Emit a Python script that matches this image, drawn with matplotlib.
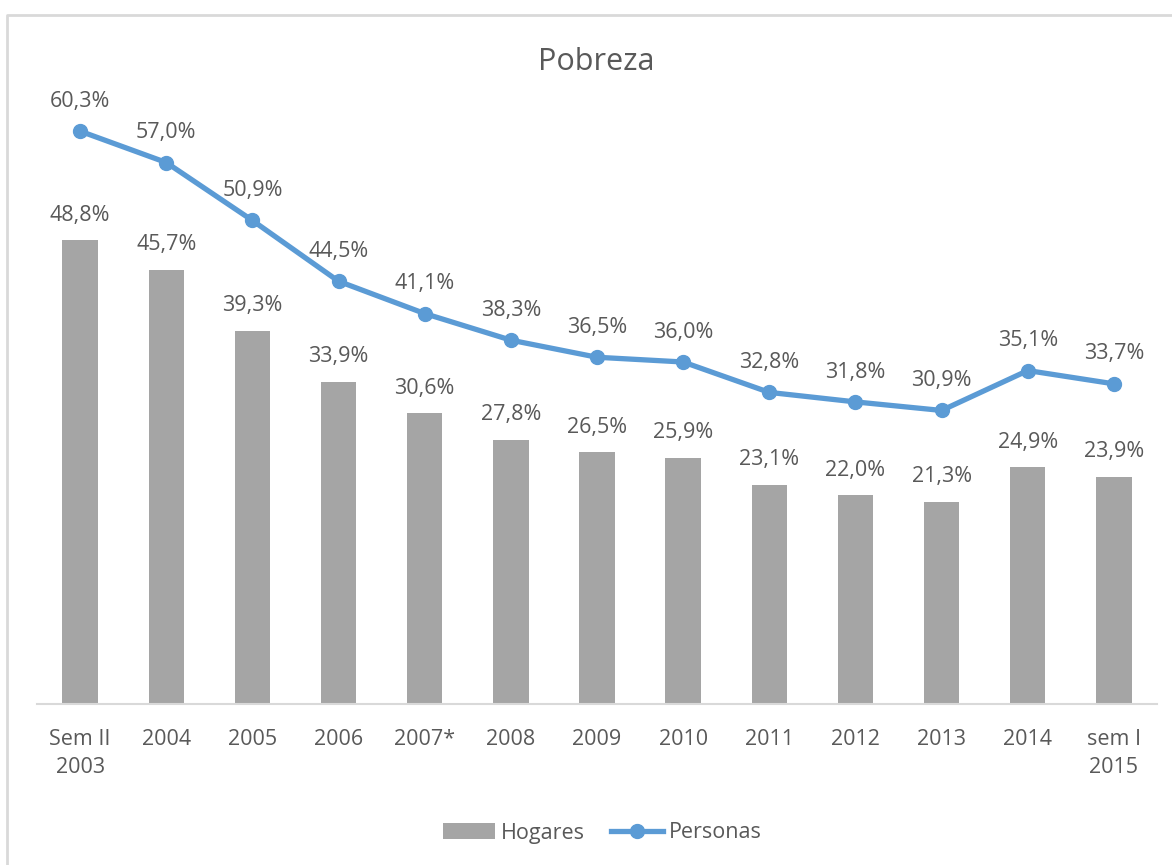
import matplotlib
matplotlib.use("Agg")
import matplotlib.pyplot as plt
from matplotlib.lines import Line2D
import numpy as np

plt.rcParams['font.family'] = ['Open Sans', 'DejaVu Sans']

# data
categories = ["Sem II\n2003", "2004", "2005", "2006", "2007*", "2008", "2009",
              "2010", "2011", "2012", "2013", "2014", "sem I\n2015"]
hogares = [48.8, 45.7, 39.3, 33.9, 30.6, 27.8, 26.5, 25.9, 23.1, 22.0, 21.3, 24.9, 23.9]
personas = [60.3, 57.0, 50.9, 44.5, 41.1, 38.3, 36.5, 36.0, 32.8, 31.8, 30.9, 35.1, 33.7]

text_color = '#595959'
bar_color = '#A5A5A5'
line_color = '#5B9BD5'
grid_gray = '#D9D9D9'

W, H = 1172, 865
fig = plt.figure(figsize=(W / 100, H / 100), dpi=100)

# chart area frame (Excel style, cropped on right/bottom)
fig.add_artist(Line2D([7 / W, 7 / W, 1.0], [0.0, 1 - 15 / H, 1 - 15 / H],
                      transform=fig.transFigure, color=grid_gray, linewidth=2))

ax_bottom = 1 - 704 / H
ax = fig.add_axes([37 / W, ax_bottom, 1120 / W, 617.5 / H])
x = np.arange(len(categories))

bars = ax.bar(x, hogares, width=0.41, color=bar_color, label='Hogares', zorder=2)
line, = ax.plot(x, personas, color=line_color, linewidth=3.8, marker='o', markersize=10,
                label='Personas', zorder=3)

for xi, v in zip(x, hogares):
    ax.annotate(f"{v:.1f}%".replace('.', ','), (xi, v), xytext=(0, 18),
                textcoords='offset points', ha='center', va='center',
                fontsize=15.5, color=text_color)
for xi, v in zip(x, personas):
    ax.annotate(f"{v:.1f}%".replace('.', ','), (xi, v), xytext=(0, 21.5),
                textcoords='offset points', ha='center', va='center',
                fontsize=15.5, color=text_color)

ax.set_xlim(-0.5, len(categories) - 0.5)
ax.set_ylim(0, 65)
ax.set_yticks([])
ax.set_xticks(x)
ax.set_xticklabels(categories, fontsize=15.5, color=text_color, linespacing=1.45)
ax.tick_params(axis='x', length=0, pad=18)
for side in ['top', 'right', 'left']:
    ax.spines[side].set_visible(False)
ax.spines['bottom'].set_color(grid_gray)
ax.spines['bottom'].set_linewidth(1.5)
ax.set_facecolor('none')

fig.text(596 / W, 1 - 62 / H, 'Pobreza', ha='center', va='center',
         fontsize=22, color=text_color)

fig.legend([bars, line], ['Hogares', 'Personas'], loc='center',
           bbox_to_anchor=(0.514, 1 - 833 / H),
           ncol=2, frameon=False, fontsize=15.5, labelcolor=text_color,
           handlelength=2.4, columnspacing=1.2, handletextpad=0.3)

fig.savefig('out.png', dpi=100)
